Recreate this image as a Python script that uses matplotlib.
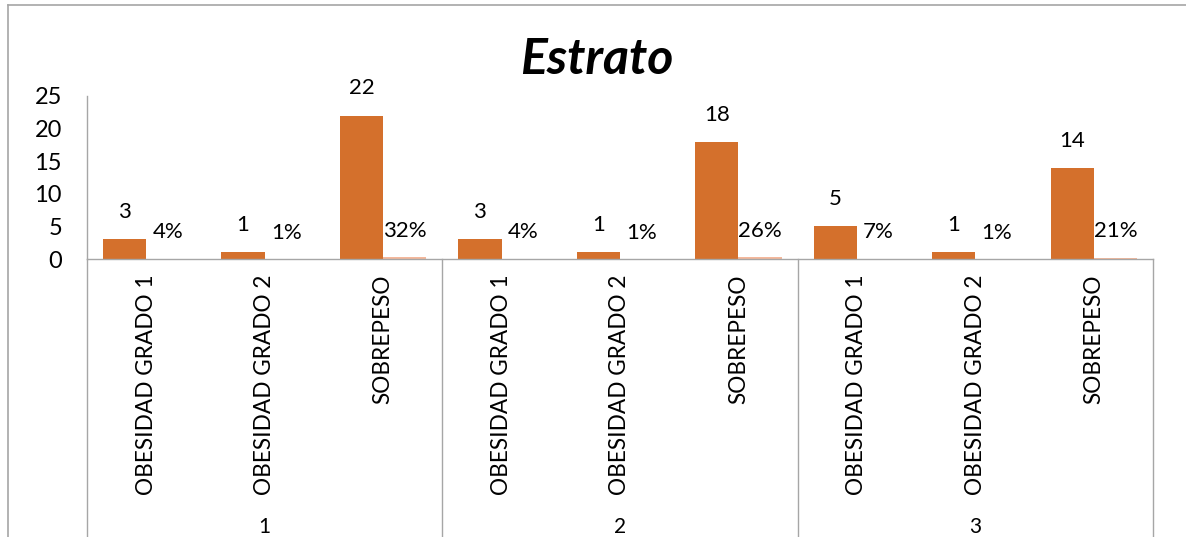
import matplotlib
matplotlib.use("Agg")
import matplotlib.pyplot as plt
from matplotlib.lines import Line2D
from matplotlib.transforms import blended_transform_factory

plt.rcParams['font.family'] = ['Lato', 'DejaVu Sans']

# data
categories = ['OBESIDAD GRADO 1', 'OBESIDAD GRADO 2', 'SOBREPESO'] * 3
groups = ['1', '2', '3']
counts = [3, 1, 22, 3, 1, 18, 5, 1, 14]
percents = [0.04, 0.01, 0.32, 0.04, 0.01, 0.26, 0.07, 0.01, 0.21]

orange = '#D4702C'
light = '#F4B89C'
grey = '#A6A6A6'

fig = plt.figure(figsize=(11.86, 5.37), dpi=100)
ax = fig.add_axes([87 / 1186, 1 - 259 / 537, (1153 - 87) / 1186, 163 / 537])

x = list(range(len(categories)))
w = 0.365
b1 = ax.bar([i - w / 2 for i in x], counts, width=w, color=orange)
b2 = ax.bar([i + w / 2 for i in x], percents, width=w, color=light)

for rect, v in zip(b1, counts):
    ax.annotate(str(v), (rect.get_x() + rect.get_width() / 2, rect.get_height()),
                xytext=(0, 19.5), textcoords='offset points',
                ha='center', va='center', fontsize=16)
for rect, v in zip(b2, percents):
    ax.annotate('{:.0f}%'.format(v * 100), (rect.get_x() + rect.get_width() / 2, rect.get_height()),
                xytext=(0, 19), textcoords='offset points',
                ha='center', va='center', fontsize=16)

ax.set_xlim(-0.5, len(categories) - 0.5)
ax.set_ylim(0, 25)
ax.set_yticks([0, 5, 10, 15, 20, 25])
ax.tick_params(axis='y', length=0, labelsize=17, pad=18)
ax.set_xticks(x)
ax.set_xticklabels(categories, rotation=90, va='top', ha='center', fontsize=16.3)
ax.tick_params(axis='x', length=0, pad=11)

for s in ['top', 'right']:
    ax.spines[s].set_visible(False)
for s in ['left', 'bottom']:
    ax.spines[s].set_color(grey)
    ax.spines[s].set_linewidth(1.0)

# group separators below the axis
trans = ax.get_xaxis_transform()
for xs in [-0.5, 2.5, 5.5, 8.5]:
    ax.plot([xs, xs], [0, -2.5], transform=trans, color=grey, lw=1.0, clip_on=False)

# group labels
gtrans = blended_transform_factory(ax.transData, fig.transFigure)
for gi, g in enumerate(groups):
    ax.text(gi * 3 + 1, 1 - 527 / 537, g, transform=gtrans,
            ha='center', va='center', fontsize=15)

fig.text(0.5 + 4 / 1186, 1 - 60 / 537, 'Estrato', ha='center', va='center',
         fontsize=36, fontweight='bold', fontstyle='italic')

# chart frame
fig.add_artist(Line2D([8 / 1186, 8 / 1186], [0, 1 - 5 / 537], transform=fig.transFigure, color=grey, lw=1.2))
fig.add_artist(Line2D([8 / 1186, 1], [1 - 5 / 537, 1 - 5 / 537], transform=fig.transFigure, color=grey, lw=1.2))

fig.savefig('out.png', dpi=100)
